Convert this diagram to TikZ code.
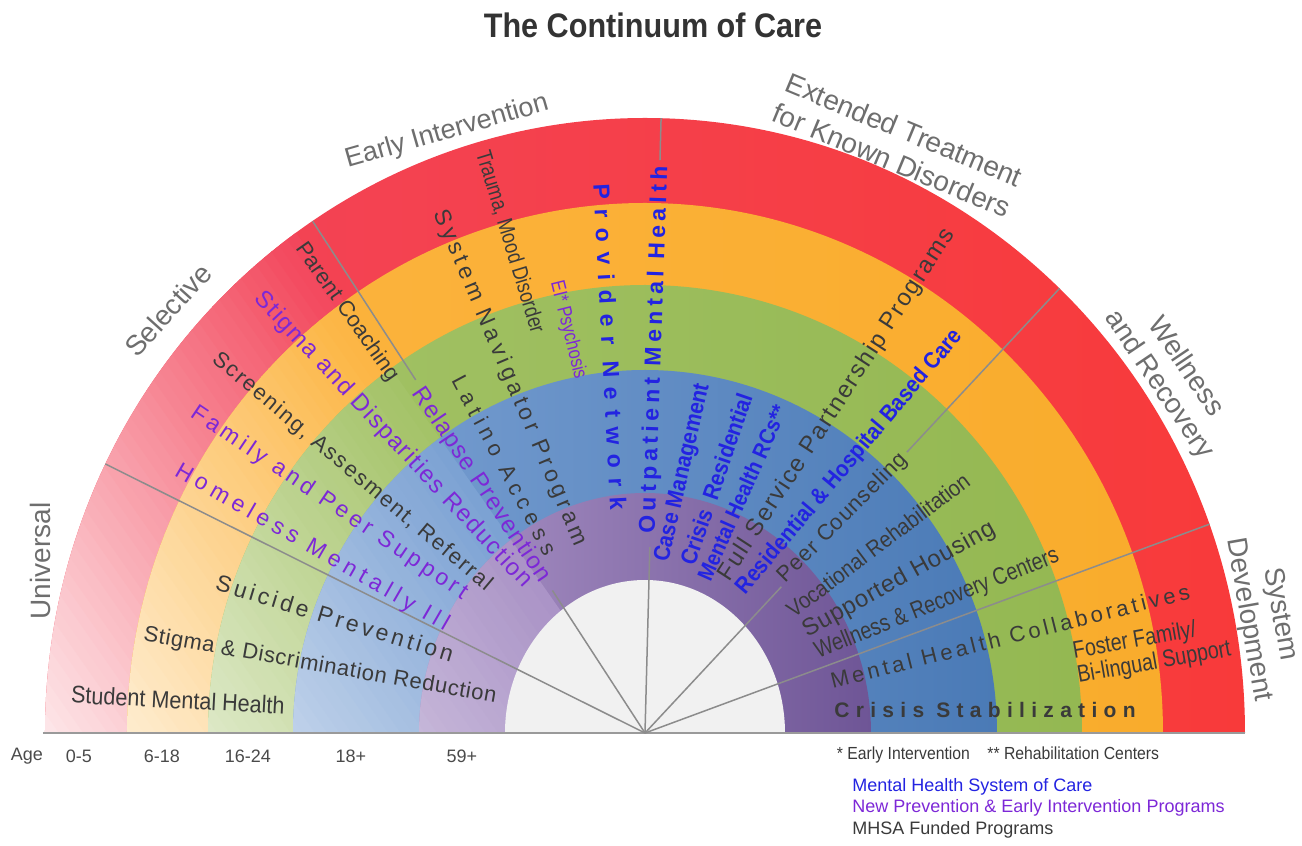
\documentclass[tikz,border=0pt]{standalone}
\usepackage{fontspec}
\setmainfont{Liberation Sans}
\newfontfamily\semifont[FakeStretch=0.9]{Liberation Sans}
\newfontfamily\narrowfont[FakeStretch=0.82]{Liberation Sans}
\usepackage{xcolor}
\usepackage{tikz}
\usetikzlibrary{positioning}

\newcommand\fs[2]{\fontsize{#1}{#2}\selectfont}
\newcommand\ls[1]{\addfontfeature{LetterSpace=#1}}

\definecolor{redL}{HTML}{F2455A}
\definecolor{redR}{HTML}{F83A3A}
\definecolor{orangeL}{HTML}{FCB440}
\definecolor{orangeR}{HTML}{F9AC2C}
\definecolor{greenL}{HTML}{A3C266}
\definecolor{greenR}{HTML}{94B852}
\definecolor{blueL}{HTML}{7BA1D3}
\definecolor{blueR}{HTML}{4A7AB6}
\definecolor{purpleL}{HTML}{AA93C6}
\definecolor{purpleR}{HTML}{6E5596}
\definecolor{hubgray}{HTML}{F1F1F1}
\definecolor{lblgray}{HTML}{6E6E6E}
\definecolor{mhsatext}{HTML}{3A3A3A}
\definecolor{peitext}{HTML}{7D28D7}
\definecolor{soctext}{HTML}{2323E1}
\definecolor{titlegray}{HTML}{333333}
\definecolor{agegray}{HTML}{4A4A4A}
\definecolor{sepgray}{HTML}{8C8C8C}
\definecolor{basegray}{HTML}{9A9A9A}

\begin{document}
\begin{tikzpicture}[
  x=0.5pt, y=0.5pt,
  lbl/.style={inner sep=0, text=lblgray, font=\fs{14}{16}, align=center},
  mhsa/.style={inner sep=0, text=mhsatext},
  pei/.style={inner sep=0, text=peitext},
  soc/.style={inner sep=0, text=soctext},
  sepline/.style={draw=sepgray, line width=0.75pt},
  agelbl/.style={inner sep=0, text=agegray, font=\fs{9}{11}},
  legend/.style={inner sep=0, anchor=west, font=\fs{9}{11}}
]
\useasboundingbox (-645,-113) rectangle (657,733);
\coordinate (ctr) at (0,0);

\foreach \cl/\cr/\a/\b in {redL/redR/600/615, orangeL/orangeR/518/530, greenL/greenR/437/448, blueL/blueR/352/363, purpleL/purpleR/226/240}{
  \shade[left color=\cl, middle color=\cl, right color=\cr] (-\a,0) arc[start angle=180, end angle=0, x radius=\a, y radius=\b] -- cycle;
  \begin{scope}
    \clip (-\a,0) arc[start angle=180, end angle=0, x radius=\a, y radius=\b] -- cycle;
    \begin{scope}[rotate=35]
      \foreach \k in {1,...,52}{
        \pgfmathtruncatemacro\pct{round(100-92*(1-(\k-0.5)/52))}
        \fill[\cl!\pct!white] ({-530+10*\k},-760) rectangle ({-519+10*\k},760);
      }
    \end{scope}
  \end{scope}
}

\fill[hubgray] (-140,0) arc[start angle=180, end angle=0, x radius=140, y radius=153] -- cycle;
\draw[basegray, line width=1pt] (-602,0) -- (600,0);

\draw[sepline] (ctr) -- (153.5:603);
\draw[sepline] (ctr) -- (123:170) (123:421) -- (123:610);
\draw[sepline] (ctr) -- (88.5:186) (88.5:573) -- (88.5:615);
\draw[sepline] (ctr) -- (47:200) (47:384) -- (47:608);
\draw[sepline] (ctr) -- (20.3:602);

\node[inner sep=0, text=titlegray, font=\semifont\bfseries\fs{17}{20}] (title) at (8,708) {The Continuum of Care};

\node[lbl, rotate=90] (universal) at (-605,172) {Universal};
\node[lbl, rotate=48] (selective) at (-477,423) {Selective};
\node[lbl, rotate=16, font=\fs{13.5}{16}] (earlyint) at (-198,601) {Early Intervention};
\node[lbl, rotate=-22.5, font=\fs{14}{16.5}] (extended) at (253,588) {Extended Treatment\\for Known Disorders};
\node[lbl, rotate=-56] (wellrec) at (527,357) {Wellness\\and Recovery};
\node[lbl, rotate=-80] (sysdev) at (619,116) {System\\Development};

\node[mhsa, rotate=-3, font=\semifont\fs{12}{14}] (student) at (-467,33) {Student Mental Health};
\node[mhsa, rotate=-10, font=\fs{11}{13}\ls{3}] (stigdisc) at (-325,67) {Stigma \& Discrimination Reduction};
\node[mhsa, rotate=-17, font=\fs{11.5}{13}\ls{15}] (suicide) at (-310,115) {Suicide Prevention};
\node[pei, rotate=-30, font=\fs{11.5}{13}\ls{23}] (homeless) at (-333,185) {Homeless Mentally Ill};
\node[pei, rotate=-34, font=\fs{11.5}{13}\ls{17}] (family) at (-316,230) {Family and Peer Support};
\node[mhsa, rotate=-40, font=\fs{11}{13}\ls{8}] (screening) at (-293,261) {Screening, Assesment, Referral};
\node[pei, rotate=-47, font=\fs{12}{14}\ls{6}] (stigdisp) at (-252,293) {Stigma and Disparities Reduction};
\node[mhsa, rotate=-55, font=\fs{11}{13}] (parent) at (-298,421) {Parent Coaching};
\node[pei, rotate=-56, font=\fs{12}{14}\ls{5}] (relapse) at (-164,248) {Relapse Prevention};
\node[mhsa, rotate=-62, font=\fs{11}{13}\ls{26}] (latino) at (-140,268) {Latino Access};
\node[mhsa, rotate=-67, font=\fs{11.5}{13}\ls{18}] (navigator) at (-135,355) {System Navigator Program};
\node[mhsa, rotate=-73, font=\narrowfont\fs{11}{13}] (trauma) at (-135,491) {Trauma, Mood Disorder};
\node[pei, rotate=-76, font=\narrowfont\fs{10}{12}] (psychosis) at (-77,403) {EI* Psychosis};
\node[soc, rotate=-87, font=\bfseries\fs{11.5}{13}\ls{42}] (provider) at (-35,386) {Provider Network};
\node[soc, rotate=88, font=\bfseries\fs{11.5}{13}\ls{20}] (outpatient) at (10,383) {Outpatient Mental Health};
\node[soc, rotate=77, font=\semifont\bfseries\fs{11.5}{13}] (casemgmt) at (38,260) {Case Management};
\node[soc, rotate=71, font=\semifont\bfseries\fs{11.5}{13}] (crisisres) at (71,254) {Crisis\enspace Residential};
\node[soc, rotate=66, font=\semifont\bfseries\fs{11}{13}] (mhrc) at (97,240) {Mental Health RCs**};
\node[mhsa, rotate=57, font=\fs{12}{14}\ls{7}] (fsp) at (192,328) {Full Service Partnership Programs};
\node[soc, rotate=50, font=\semifont\bfseries\fs{11.5}{13}] (rhbc) at (205,271) {Residential \& Hospital Based Care};
\node[mhsa, rotate=45, font=\fs{11}{13}\ls{4}] (peer) at (198,215) {Peer Counseling};
\node[mhsa, rotate=37, font=\semifont\fs{11.3}{13}] (vocrehab) at (233,188) {Vocational Rehabilitation};
\node[mhsa, rotate=29, font=\fs{12}{14}\ls{3}] (housing) at (254,153) {Supported Housing};
\node[mhsa, rotate=22, font=\narrowfont\fs{12}{14}] (wrc) at (292,129) {Wellness \& Recovery Centers};
\node[mhsa, rotate=14, font=\fs{11}{13}\ls{16}] (mhcollab) at (365,97) {Mental Health Collaboratives};
\node[mhsa, font=\bfseries\fs{10.5}{12}\ls{30}] (crisisstab) at (340,23) {Crisis Stabilization};
\node[mhsa, rotate=10, align=left, font=\narrowfont\fs{12}{12.5}] (foster) at (507,82) {Foster Family/\\Bi-lingual Support};

\node[agelbl] (age) at (-618,-23) {Age};
\node[agelbl] (age05) at (-566,-23) {0-5};
\node[agelbl] (age618) at (-483,-23) {6-18};
\node[agelbl] (age1624) at (-397,-23) {16-24};
\node[agelbl] (age18) at (-294,-23) {18+};
\node[agelbl] (age59) at (-183,-23) {59+};

\node[inner sep=0, text=mhsatext, font=\semifont\fs{8.75}{11}] (notes) at (353,-22) {* Early Intervention\quad** Rehabilitation Centers};
\node[legend, text=soctext] (legsoc) at (207,-54) {Mental Health System of Care};
\node[legend, text=peitext, below=10.5pt of legsoc.west, anchor=west] (legpei) {New Prevention \& Early Intervention Programs};
\node[legend, text=mhsatext, below=11pt of legpei.west, anchor=west] (legmhsa) {MHSA Funded Programs};
\end{tikzpicture}
\end{document}
